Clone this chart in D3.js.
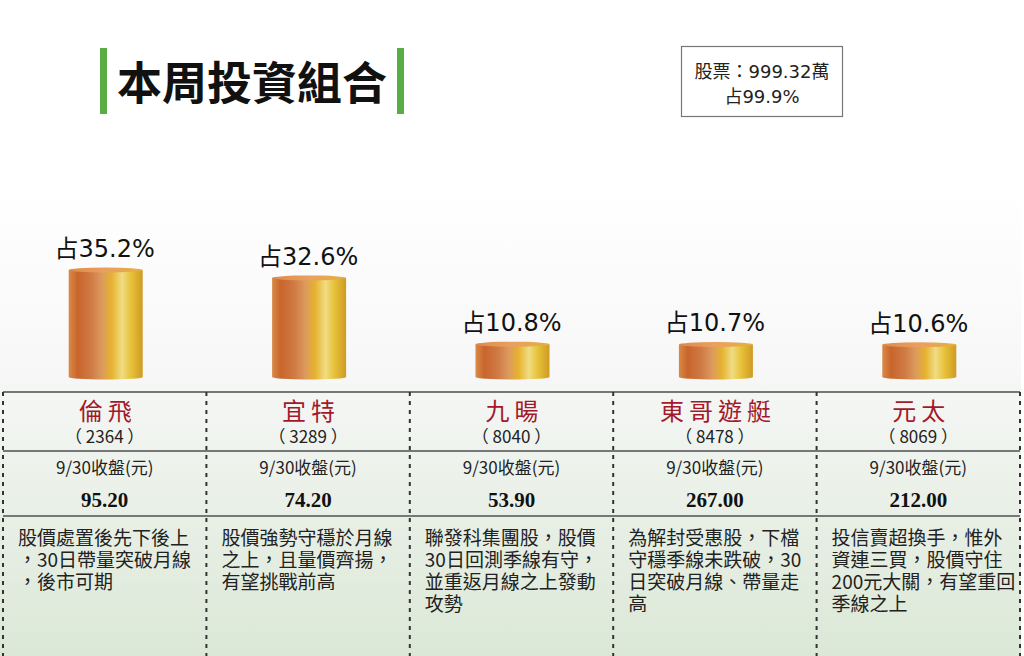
<!DOCTYPE html>
<html><head><meta charset="utf-8">
<script src="https://cdn.jsdelivr.net/npm/d3@7/dist/d3.min.js"></script>
<style>html,body{margin:0;padding:0;background:#fff;}svg{display:block;}</style>
</head><body>
<svg id="c" width="1024" height="656"></svg>
<script>
const names = ["倫飛","宜特","九暘","東哥遊艇","元太"];
const codes = ["2364","3289","8040","8478","8069"];
const shares = [35.2, 32.6, 10.8, 10.7, 10.6];
const prices = ["95.20","74.20","53.90","267.00","212.00"];
const priceLabel = "9/30收盤(元)";
const notes = [
  ["股價處置後先下後上","，30日帶量突破月線","，後市可期"],
  ["股價強勢守穩於月線","之上，且量價齊揚，","有望挑戰前高"],
  ["聯發科集團股，股價","30日回測季線有守，","並重返月線之上發動","攻勢"],
  ["為解封受惠股，下檔","守穩季線未跌破，30","日突破月線、帶量走","高"],
  ["投信賣超換手，惟外","資連三買，股價守住","200元大關，有望重回","季線之上"]
];
const title = "本周投資組合";
const boxLines = ["股票：999.32萬","占99.9%"];

const svg = d3.select("#c");
const CJK = "'Noto Sans CJK TC','Noto Sans CJK SC',sans-serif";
const MIX = "'DejaVu Sans','Noto Sans CJK TC',sans-serif";
const defs = svg.append("defs");

// background panel gradient
const bg = defs.append("linearGradient").attr("id","bg").attr("x1",0).attr("y1",0).attr("x2",0).attr("y2",1);
bg.append("stop").attr("offset","0%").attr("stop-color","#ffffff");
bg.append("stop").attr("offset","40%").attr("stop-color","#f6f7f6");
bg.append("stop").attr("offset","100%").attr("stop-color","#dbe8d6");
svg.append("rect").attr("x",0).attr("y",190).attr("width",1021).attr("height",466).attr("fill","url(#bg)");

// cylinder gradient
const cg = defs.append("linearGradient").attr("id","cyl").attr("x1",0).attr("y1",0).attr("x2",1).attr("y2",0);
[["0%","#d98a48"],["12%","#c9652c"],["30%","#cf7a45"],["45%","#dc9a5e"],["58%","#e6b22e"],["72%","#f0dc84"],["84%","#e7c23a"],["100%","#cf9a22"]]
  .forEach(([o,c])=>cg.append("stop").attr("offset",o).attr("stop-color",c));
const tg = defs.append("linearGradient").attr("id","top").attr("x1",0).attr("y1",0).attr("x2",1).attr("y2",0);
[["0%","#e08a48"],["50%","#e9a060"],["100%","#e4b040"]].forEach(([o,c])=>tg.append("stop").attr("offset",o).attr("stop-color",c));

// title
svg.append("rect").attr("x",100).attr("y",48).attr("width",7).attr("height",66).attr("fill","#5aac44");
svg.append("rect").attr("x",397).attr("y",48).attr("width",7).attr("height",66).attr("fill","#5aac44");
svg.append("text").attr("x",252).attr("y",100).attr("text-anchor","middle")
  .attr("font-family",CJK).attr("font-weight","bold").attr("font-size",45).attr("fill","#111").text(title);

// box
svg.append("rect").attr("x",681.5).attr("y",46.5).attr("width",161).attr("height",70).attr("fill","#fff").attr("stroke","#777").attr("stroke-width",1.2);
svg.selectAll("text.box").data(boxLines).join("text").attr("class","box")
  .attr("x",762).attr("y",(d,i)=>78+i*25).attr("text-anchor","middle")
  .attr("font-family",MIX).attr("font-size",18).attr("fill","#222").text(d=>d);

// scales
const x = d3.scaleBand().domain(names).range([3,1020]).paddingInner(0).paddingOuter(0);
const baseline = 377;
const y = d3.scaleLinear().domain([0,35.2]).range([baseline, 270]);
const cw = 74;

const g = svg.append("g");
const bars = g.selectAll("g.bar").data(names).join("g").attr("class","bar");
bars.append("rect")
  .attr("x",d=>x(d)+x.bandwidth()/2-cw/2+1).attr("width",cw)
  .attr("y",(d,i)=>y(shares[i])).attr("height",(d,i)=>baseline-y(shares[i]))
  .attr("fill","url(#cyl)");
bars.append("ellipse")
  .attr("cx",d=>x(d)+x.bandwidth()/2+1).attr("cy",baseline).attr("rx",cw/2).attr("ry",2.5).attr("fill","url(#cyl)");
bars.append("ellipse")
  .attr("cx",d=>x(d)+x.bandwidth()/2+1).attr("cy",(d,i)=>y(shares[i])).attr("rx",cw/2).attr("ry",2.5).attr("fill","url(#top)");
bars.append("text")
  .attr("x",d=>x(d)+x.bandwidth()/2).attr("y",(d,i)=>y(shares[i])-13)
  .attr("text-anchor","middle").attr("font-family",MIX).attr("font-size",24).attr("fill","#111")
  .text((d,i)=>"占"+shares[i]+"%");

// table lines
const lineY = [392, 451, 516];
svg.selectAll("line.h").data(lineY).join("line").attr("class","h")
  .attr("x1",3).attr("x2",1020).attr("y1",d=>d).attr("y2",d=>d)
  .attr("stroke","#777").attr("stroke-width",2);
const vx = names.map(n=>x(n)).concat([1020]);
svg.selectAll("line.v").data(vx).join("line").attr("class","v")
  .attr("x1",d=>d).attr("x2",d=>d).attr("y1",392).attr("y2",656)
  .attr("stroke","#333").attr("stroke-width",2).attr("stroke-dasharray","4,5");

const cols = svg.selectAll("g.col").data(names).join("g").attr("class","col");
cols.append("text").attr("x",d=>x(d)+x.bandwidth()/2+3).attr("y",420).attr("text-anchor","middle")
  .attr("font-family",CJK).attr("font-size",24).attr("fill","#a3192b").attr("letter-spacing",5).text(d=>d);
cols.append("text").attr("x",d=>x(d)+x.bandwidth()/2).attr("y",443).attr("text-anchor","middle")
  .attr("font-family",CJK).attr("font-size",17).attr("fill","#222").attr("xml:space","preserve")
  .text((d,i)=>"（ "+codes[i]+" ）");
cols.append("text").attr("x",d=>x(d)+x.bandwidth()/2).attr("y",474).attr("text-anchor","middle")
  .attr("font-family",CJK).attr("font-size",17).attr("fill","#222").text(priceLabel);
cols.append("text").attr("x",d=>x(d)+x.bandwidth()/2).attr("y",507).attr("text-anchor","middle")
  .attr("font-family","'Liberation Serif','Times New Roman',serif").attr("font-weight","bold").attr("font-size",21).attr("fill","#111").text((d,i)=>prices[i]);
cols.each(function(d,i){
  d3.select(this).selectAll("text.note").data(notes[i]).join("text").attr("class","note")
    .attr("x",x(d)+15).attr("y",(t,j)=>545+j*22)
    .attr("font-family",CJK).attr("font-size",19).attr("fill","#222").text(t=>t);
});
</script>
</body></html>
